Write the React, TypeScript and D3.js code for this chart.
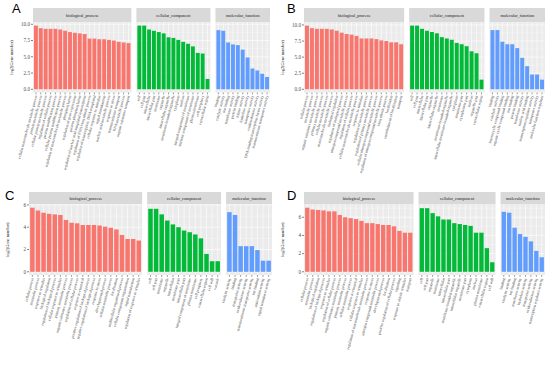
import React from 'react';
import * as d3 from 'd3';

const categories = ['biological_process', 'cellular_component', 'molecular_function'];
const fills = ['#F8766D', '#00BA38', '#619CFF'];

// panel A
const termsA_BP = [
  'cellular macromolecule metabolic process', 'protein metabolic process', 'cellular protein metabolic process',
  'regulation of cellular process', 'protein modification process', 'cellular protein modification process',
  'regulation of macromolecule metabolic process', 'phosphorylation', 'regulation of gene expression',
  'protein phosphorylation', 'regulation of nucleic acid-templated transcription', 'regulation of RNA biosynthetic process',
  'regulation of transcription, DNA-templated', 'cellular response to stimulus', 'signal transduction',
  'nucleic acid metabolic process', 'response to stress', 'transmembrane transport', 'RNA metabolic process',
  'organic substance transport',
];
const valuesA_BP = [9.8, 9.4, 9.3, 9.3, 9.3, 9.2, 9.0, 8.8, 8.7, 8.6, 8.5, 7.8, 7.8, 7.7, 7.7, 7.6, 7.5, 7.3, 7.2, 7.1];
const termsA_CC = [
  'cell', 'cell part', 'intracellular', 'intracellular part', 'membrane', 'organelle', 'intracellular organelle',
  'membrane-bounded organelle', 'cytoplasm', 'nucleus', 'integral component of membrane',
  'intrinsic component of membrane', 'plasma membrane', 'cell periphery', 'extracellular region',
];
const valuesA_CC = [9.8, 9.8, 9.2, 9.0, 8.8, 8.6, 8.0, 7.9, 7.6, 7.3, 7.0, 6.6, 5.6, 5.5, 1.6];
const termsA_MF = [
  'binding', 'catalytic activity', 'ion binding', 'transferase activity', 'protein binding', 'kinase activity',
  'hydrolase activity', 'transporter activity', 'oxidoreductase activity', 'DNA-binding transcription factor activity',
  'transmembrane transporter activity',
];
const valuesA_MF = [9.1, 9.0, 7.2, 6.9, 6.8, 6.1, 4.9, 3.2, 2.9, 2.4, 1.9];

// panel B
const termsB_BP = [
  'cellular process', 'metabolic process', 'organic substance metabolic process', 'primary metabolic process',
  'cellular metabolic process', 'macromolecule metabolic process', 'biological regulation',
  'regulation of biological process', 'nitrogen compound metabolic process', 'regulation of cellular process',
  'cellular macromolecule metabolic process', 'response to stimulus', 'regulation of metabolic process',
  'regulation of primary metabolic process', 'cellular nitrogen compound metabolic process',
  'regulation of nitrogen compound metabolic process', 'biosynthetic process', 'localization',
  'establishment of localization', 'transport',
];
const valuesB_BP = [9.9, 9.5, 9.4, 9.4, 9.4, 9.3, 9.1, 8.8, 8.6, 8.5, 8.3, 7.9, 7.9, 7.9, 7.8, 7.6, 7.5, 7.3, 7.3, 7.0];
const termsB_CC = [
  'cell', 'cell part', 'intracellular', 'intracellular part', 'organelle', 'intracellular organelle',
  'membrane', 'membrane-bounded organelle', 'intracellular membrane-bounded organelle', 'cytoplasm',
  'membrane part', 'cytoplasmic part', 'nucleus', 'organelle part', 'extracellular region',
];
const valuesB_CC = [9.9, 9.9, 9.4, 9.1, 8.9, 8.7, 8.1, 7.9, 7.7, 7.2, 7.0, 6.7, 5.9, 5.6, 1.5];
const termsB_MF = [
  'binding', 'catalytic activity', 'heterocyclic compound binding', 'organic cyclic compound binding',
  'ion binding', 'protein binding', 'transferase activity', 'nucleic acid binding',
  'transcription regulator activity', 'transporter activity', 'molecular function regulator',
];
const valuesB_MF = [9.2, 9.2, 7.4, 7.0, 7.0, 6.4, 4.9, 3.6, 2.3, 2.3, 1.5];

// panel C
const termsC_BP = [
  'cellular process', 'metabolic process', 'response to stimulus', 'biological regulation',
  'regulation of biological process', 'cellular response to stimulus', 'primary metabolic process',
  'organic substance metabolic process', 'regulation of cellular process', 'response to chemical',
  'positive regulation of biological process', 'negative regulation of biological process',
  'response to stress', 'developmental process', 'cellular metabolic process', 'localization',
  'multicellular organismal process', 'cellular component organization', 'signal transduction',
  'regulation of response to stimulus',
];
const valuesC_BP = [5.75, 5.5, 5.3, 5.2, 5.15, 5.1, 4.65, 4.4, 4.35, 4.2, 4.2, 4.2, 4.15, 4.05, 3.95, 3.8, 3.3, 2.95, 2.95, 2.8];
const termsC_CC = [
  'cell', 'cell part', 'membrane', 'organelle', 'intracellular', 'membrane part', 'intracellular part',
  'integral component of membrane', 'plasma membrane', 'cell periphery', 'extracellular region',
  'cell wall', 'vacuole',
];
const valuesC_CC = [5.65, 5.65, 5.15, 4.6, 4.25, 4.0, 3.7, 3.55, 3.35, 3.0, 1.6, 0.95, 0.95];
const termsC_MF = [
  'catalytic activity', 'binding', 'transporter activity', 'oxidoreductase activity',
  'transmembrane transporter activity', 'ion binding', 'antioxidant activity', 'signal transducer activity',
];
const valuesC_MF = [5.35, 5.1, 2.3, 2.3, 2.3, 1.95, 1.0, 1.0];

// panel D
const termsD_BP = [
  'cellular process', 'metabolic process', 'biological regulation', 'regulation of biological process',
  'response to stimulus', 'regulation of cellular process', 'organic substance metabolic process',
  'primary metabolic process', 'cellular metabolic process', 'response to chemical',
  'cellular response to stimulus', 'regulation of macromolecule metabolic process', 'response to stress',
  'nitrogen compound metabolic process', 'developmental process', 'localization',
  'positive regulation of cellular process', 'signaling', 'response to abiotic stimulus', 'transport',
];
const valuesD_BP = [7.05, 6.85, 6.8, 6.75, 6.65, 6.65, 6.25, 6.0, 5.9, 5.8, 5.6, 5.35, 5.35, 5.25, 5.15, 5.15, 5.0, 4.5, 4.3, 4.3];
const termsD_CC = [
  'cell', 'cell part', 'organelle', 'membrane', 'intracellular', 'intracellular part',
  'membrane-bounded organelle', 'intracellular organelle', 'membrane part', 'cytoplasm', 'nucleus',
  'plasma membrane', 'extracellular region', 'cell wall',
];
const valuesD_CC = [7.0, 7.0, 6.45, 6.1, 5.75, 5.75, 5.35, 5.25, 5.15, 5.05, 4.3, 4.3, 2.6, 1.05];
const termsD_MF = [
  'binding', 'catalytic activity', 'ion binding', 'transferase activity', 'hydrolase activity',
  'transporter activity', 'oxidoreductase activity', 'transcription regulator activity',
];
const valuesD_MF = [6.6, 6.5, 4.85, 4.15, 3.85, 3.35, 2.3, 1.6];

const ticksAB = [0, 2.5, 5, 7.5, 10];
const ticksCD = [0, 2, 4, 6];

const serif = '"Liberation Serif", "Times New Roman", serif';
const GAP = 5;

interface Group { terms: string[]; values: number[] }
interface SubProps {
  letter: string; letterX: number; letterY: number;
  left: number; right: number; stripTop: number; panelTop: number; panelBottom: number;
  ticks: number[]; fmt: (v: number) => string; groups: Group[];
}

function SubFigure({ letter, letterX, letterY, left, right, stripTop, panelTop, panelBottom, ticks, fmt, groups }: SubProps) {
  const vmax = d3.max(groups.flatMap((g) => g.values)) ?? 1;
  const dom: [number, number] = [-0.05 * vmax, 1.05 * vmax];
  const y = d3.scaleLinear().domain(dom).range([panelBottom, panelTop]);
  const step = ticks[1] - ticks[0];
  // minor grid sits halfway between the breaks, like ggplot
  const minor = [ticks[0] - step, ...ticks, ticks[ticks.length - 1] + step]
    .slice(0, -1)
    .map((t) => t + step / 2)
    .filter((t) => t > dom[0] && t < dom[1]);
  const majors = ticks.filter((t) => t >= dom[0] && t <= dom[1]);

  // free x space per facet: n bars + 0.6 padding each side
  const units = d3.sum(groups, (g) => g.values.length + 0.2);
  const u = (right - left - GAP * (groups.length - 1)) / units;
  let cursor = left;
  const facets = groups.map((g, i) => {
    const w = (g.values.length + 0.2) * u;
    const x0 = cursor;
    cursor += w + GAP;
    const x = d3.scalePoint<string>().domain(g.terms).range([x0 + 0.6 * u, x0 + w - 0.6 * u]);
    return { ...g, x0, w, x, cat: categories[i], fill: fills[i] };
  });
  const bw = 0.8 * u;
  const midY = (panelTop + panelBottom) / 2;

  return (
    <g>
      <text x={letterX} y={letterY} fontFamily='"Liberation Sans", Arial, sans-serif' fontSize={13} fill="#000">
        {letter}
      </text>
      <text
        transform={`translate(${left - 20},${midY}) rotate(-90)`}
        textAnchor="middle"
        fontFamily={serif}
        fontSize={4.4}
        fill="#1A1A1A"
      >
        log2(Gene number)
      </text>
      {majors.map((t) => (
        <g key={t}>
          <line x1={left - 2} x2={left} y1={y(t)} y2={y(t)} stroke="#333" strokeWidth={0.6} />
          <text x={left - 3} y={y(t)} dy="0.35em" textAnchor="end" fontFamily={serif} fontSize={5.2} fill="#4D4D4D">
            {fmt(t)}
          </text>
        </g>
      ))}
      {facets.map((f) => (
        <g key={f.cat}>
          <rect x={f.x0} y={stripTop} width={f.w} height={panelTop - stripTop} fill="#D9D9D9" />
          <text
            x={f.x0 + f.w / 2}
            y={(stripTop + panelTop) / 2}
            dy="0.35em"
            textAnchor="middle"
            fontFamily={serif}
            fontSize={4.3}
            fill="#1A1A1A"
          >
            {f.cat}
          </text>
          <rect x={f.x0} y={panelTop} width={f.w} height={panelBottom - panelTop} fill="#EBEBEB" />
          {minor.map((t) => (
            <line key={'m' + t} x1={f.x0} x2={f.x0 + f.w} y1={y(t)} y2={y(t)} stroke="#fff" strokeWidth={0.3} />
          ))}
          {majors.map((t) => (
            <line key={'M' + t} x1={f.x0} x2={f.x0 + f.w} y1={y(t)} y2={y(t)} stroke="#fff" strokeWidth={0.6} />
          ))}
          {f.terms.map((t) => (
            <line key={'v' + t} x1={f.x(t)} x2={f.x(t)} y1={panelTop} y2={panelBottom} stroke="#fff" strokeWidth={0.6} />
          ))}
          {f.terms.map((t, i) => (
            <rect
              key={'b' + t}
              x={(f.x(t) ?? 0) - bw / 2}
              y={y(f.values[i])}
              width={bw}
              height={y(0) - y(f.values[i])}
              fill={f.fill}
            />
          ))}
          {f.terms.map((t) => {
            const cx = f.x(t) ?? 0;
            const ty = panelBottom + 3;
            return (
              <g key={'l' + t}>
                <line x1={cx} x2={cx} y1={panelBottom} y2={panelBottom + 1.8} stroke="#333" strokeWidth={0.5} />
                <text
                  x={cx}
                  y={ty}
                  dy="0.35em"
                  transform={`rotate(-75,${cx},${ty})`}
                  textAnchor="end"
                  fontFamily={serif}
                  fontSize={3.9}
                  fill="#4D4D4D"
                >
                  {t}
                </text>
              </g>
            );
          })}
        </g>
      ))}
    </g>
  );
}

const fmt1 = d3.format('.1f');
const fmt0 = d3.format('d');

export default function App() {
  return (
    <svg width={550} height={365} style={{ position: 'absolute', left: 0, top: 0, background: '#fff' }}>
      <SubFigure
        letter="A" letterX={12} letterY={13}
        left={33} right={270} stripTop={8} panelTop={22.4} panelBottom={92.5}
        ticks={ticksAB} fmt={fmt1}
        groups={[
          { terms: termsA_BP, values: valuesA_BP },
          { terms: termsA_CC, values: valuesA_CC },
          { terms: termsA_MF, values: valuesA_MF },
        ]}
      />
      <SubFigure
        letter="B" letterX={287} letterY={13}
        left={304} right={545} stripTop={8} panelTop={22.4} panelBottom={92.5}
        ticks={ticksAB} fmt={fmt1}
        groups={[
          { terms: termsB_BP, values: valuesB_BP },
          { terms: termsB_CC, values: valuesB_CC },
          { terms: termsB_MF, values: valuesB_MF },
        ]}
      />
      <SubFigure
        letter="C" letterX={5} letterY={200}
        left={29} right={272} stripTop={192} panelTop={204.5} panelBottom={275}
        ticks={ticksCD} fmt={fmt0}
        groups={[
          { terms: termsC_BP, values: valuesC_BP },
          { terms: termsC_CC, values: valuesC_CC },
          { terms: termsC_MF, values: valuesC_MF },
        ]}
      />
      <SubFigure
        letter="D" letterX={287} letterY={200}
        left={304} right={545} stripTop={192} panelTop={204.5} panelBottom={275}
        ticks={ticksCD} fmt={fmt0}
        groups={[
          { terms: termsD_BP, values: valuesD_BP },
          { terms: termsD_CC, values: valuesD_CC },
          { terms: termsD_MF, values: valuesD_MF },
        ]}
      />
    </svg>
  );
}
